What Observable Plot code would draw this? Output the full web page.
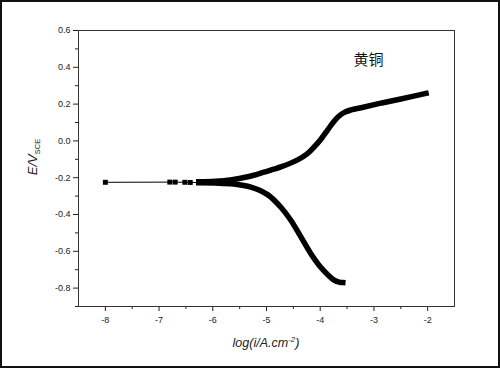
<!DOCTYPE html>
<html><head><meta charset="utf-8">
<script src="https://cdn.jsdelivr.net/npm/d3@7"></script>
<script src="https://cdn.jsdelivr.net/npm/@observablehq/plot@0.6"></script>
<style>
html,body{margin:0;padding:0;background:#fff;}
#chart svg{display:block;outline:2px solid #111;outline-offset:-2px;background:#fff;}
</style></head>
<body><div id="chart"></div>
<script>
// Low-current points near corrosion potential (sparse squares)
const lowLogI = [-8.0, -6.8, -6.7, -6.52, -6.42, -6.26];
const lowE    = [-0.225, -0.224, -0.224, -0.225, -0.226, -0.226];
// Anodic branch
const anodicLogI = [-6.26, -5.95, -5.67, -5.35, -5.05, -4.72, -4.42, -4.25, -4.12, -3.98, -3.86, -3.76, -3.67, -3.55, -3.43, -3.2, -2.87, -2.5, -2.03];
const anodicE    = [-0.222, -0.219, -0.212, -0.195, -0.170, -0.140, -0.103, -0.072, -0.035, 0.012, 0.060, 0.100, 0.130, 0.155, 0.168, 0.183, 0.205, 0.228, 0.258];
// Cathodic branch
const cathodicLogI = [-6.26, -5.95, -5.61, -5.29, -4.98, -4.74, -4.55, -4.36, -4.18, -3.99, -3.85, -3.75, -3.65, -3.58];
const cathodicE    = [-0.228, -0.229, -0.234, -0.251, -0.292, -0.358, -0.430, -0.522, -0.610, -0.687, -0.730, -0.755, -0.767, -0.770];
// Ticks
const xMajor = [-8, -7, -6, -5, -4, -3, -2];
const xMinor = [-7.5, -6.5, -5.5, -4.5, -3.5, -2.5];
const yMajor = [-0.8, -0.6, -0.4, -0.2, 0.0, 0.2, 0.4, 0.6];
const yMinor = [-0.9, -0.7, -0.5, -0.3, -0.1, 0.1, 0.3, 0.5];
const seriesLabel = "黄铜";

const low = lowLogI.map((x, i) => ({x, y: lowE[i]}));
const anodic = anodicLogI.map((x, i) => ({x, y: anodicE[i]}));
const cathodic = cathodicLogI.map((x, i) => ({x, y: cathodicE[i]}));

const plot = Plot.plot({
  width: 500, height: 368,
  marginLeft: 78, marginRight: 46, marginTop: 30, marginBottom: 62,
  style: {fontFamily: "Liberation Sans, Arial, sans-serif", fontSize: "9px", color: "#222"},
  x: {domain: [-8.5, -1.5]},
  y: {domain: [-0.9, 0.6]},
  marks: [
    Plot.axisX({ticks: xMajor, tickSize: 5, tickPadding: 5, tickFormat: d => String(d), label: null, fontSize: 9}),
    Plot.axisX({ticks: xMinor, tickSize: 3, tickFormat: () => "", label: null}),
    Plot.axisY({ticks: yMajor, tickSize: 5, tickPadding: 3, tickFormat: d => d.toFixed(1), label: null, fontSize: 9}),
    Plot.axisY({ticks: yMinor, tickSize: 3, tickFormat: () => "", label: null}),
    Plot.frame({stroke: "#333", strokeWidth: 1}),
    Plot.line(low, {x: "x", y: "y", stroke: "#000", strokeWidth: 1}),
    Plot.dot(low, {x: "x", y: "y", symbol: "square", r: 2.8, fill: "#000", stroke: "none"}),
    Plot.line(anodic, {x: "x", y: "y", stroke: "#000", strokeWidth: 5.5, curve: "catmull-rom", strokeLinecap: "square"}),
    Plot.line(cathodic, {x: "x", y: "y", stroke: "#000", strokeWidth: 5.5, curve: "catmull-rom", strokeLinecap: "square"}),
    Plot.text([seriesLabel], {x: -3.1, y: 0.44, text: d => d, fontSize: 15, fill: "#111", fontFamily: "Noto Sans CJK SC"})
  ]
});

const svg = d3.select(plot);
// Y axis label: E/V_SCE
const yl = svg.append("text")
  .attr("transform", "translate(37,157) rotate(-90)")
  .attr("text-anchor", "middle")
  .attr("font-family", "Liberation Sans, Arial, sans-serif")
  .attr("font-size", 13).attr("fill", "#222");
yl.append("tspan").attr("font-style", "italic").text("E/V");
yl.append("tspan").attr("font-size", 7.5).attr("dy", 3).text("SCE");
// X axis label: log(i/A.cm^-2)
const xl = svg.append("text")
  .attr("x", 266).attr("y", 347)
  .attr("text-anchor", "middle")
  .attr("font-family", "Liberation Sans, Arial, sans-serif")
  .attr("font-style", "italic")
  .attr("font-size", 12.5).attr("fill", "#222");
xl.append("tspan").text("log(i/A.cm");
xl.append("tspan").attr("font-size", 8).attr("dy", -5).text("-2");
xl.append("tspan").attr("dy", 5).text(")");

document.getElementById("chart").append(plot);
</script>
</body></html>
